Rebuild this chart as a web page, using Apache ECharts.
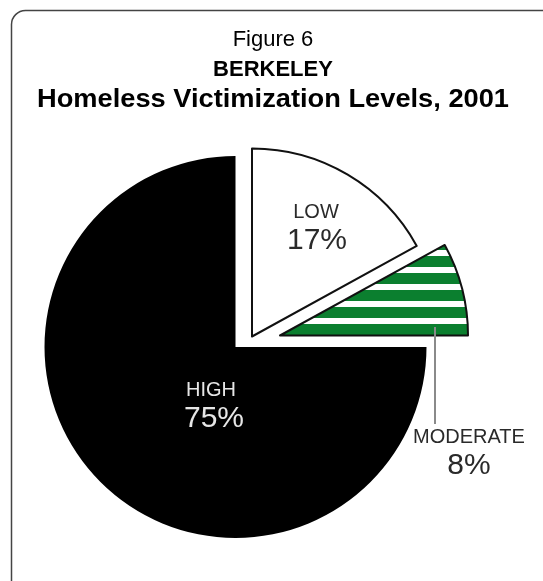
<!DOCTYPE html>
<html>
<head>
<meta charset="utf-8">
<script src="https://cdn.jsdelivr.net/npm/echarts@6/dist/echarts.min.js"></script>
<style>
  html, body { margin: 0; padding: 0; background: #fff; }
  #chart { width: 543px; height: 581px; }
</style>
</head>
<body>
<div id="chart"></div>
<script>
// Victimization levels (share of respondents, %)
const categories = ['LOW', 'MODERATE', 'HIGH'];
const shares = [17, 8, 75];
const titleLines = ['Figure 6', 'BERKELEY', 'Homeless Victimization Levels, 2001'];

const FONT = '"Liberation Sans", Arial, Helvetica, sans-serif';

// Horizontal green stripe fill used for the MODERATE slice
function stripeFill() {
  const c = document.createElement('canvas');
  c.width = 4; c.height = 17;
  const g = c.getContext('2d');
  g.fillStyle = '#ffffff';
  g.fillRect(0, 0, 4, 17);
  g.fillStyle = '#0b7f2f';
  g.fillRect(0, 6, 4, 11);
  return { image: c, repeat: 'repeat', x: 0, y: 12 };
}

// Each slice is drawn by its own pie series so it can sit at its own (exploded) centre
const sliceLayout = {
  HIGH:     { center: [235.5, 347], radius: 191, style: { color: '#000000', borderWidth: 0 } },
  LOW:      { center: [252, 336.5], radius: 188, style: { color: '#ffffff', borderColor: '#111', borderWidth: 2 } },
  MODERATE: { center: [280, 335.5], radius: 188, style: { color: stripeFill(), borderColor: '#111', borderWidth: 2 } }
};
const drawOrder = ['HIGH', 'LOW', 'MODERATE'];

const series = drawOrder.map(key => ({
  type: 'pie',
  center: sliceLayout[key].center,
  radius: sliceLayout[key].radius,
  startAngle: 90,
  clockwise: true,
  silent: true,
  animation: false,
  z: 2,
  label: { show: false },
  labelLine: { show: false },
  emphasis: { disabled: true },
  data: categories.map((name, j) => ({
    name,
    value: shares[j],
    itemStyle: name === key ? sliceLayout[key].style : { color: 'rgba(0,0,0,0)', borderWidth: 0 }
  }))
}));

// Slice label placement
const labelPos = {
  LOW:      { name: [316, 212], pct: [317, 241], color: '#2a2a2a' },
  HIGH:     { name: [211, 390], pct: [214, 419], color: '#e6e6e6' },
  MODERATE: { name: [469, 437], pct: [469, 466], color: '#2a2a2a' }
};

const labelGraphics = [];
categories.forEach((name, i) => {
  const p = labelPos[name];
  labelGraphics.push({
    type: 'text', x: p.name[0], y: p.name[1], z: 100,
    style: { text: name, fill: p.color, font: '20px ' + FONT, textAlign: 'center', textVerticalAlign: 'middle' }
  });
  labelGraphics.push({
    type: 'text', x: p.pct[0], y: p.pct[1], z: 100,
    style: { text: shares[i] + '%', fill: p.color, font: '30px ' + FONT, textAlign: 'center', textVerticalAlign: 'middle' }
  });
});

// Title block: the last line is set slightly wide
const titleFonts = ['22px ' + FONT, 'bold 22px ' + FONT, 'bold 25px ' + FONT];
const titleScaleX = [1, 1, 1.09];
const titleY = [40, 70, 100];
const titleGraphics = titleLines.map((t, i) => ({
  type: 'text', x: 273, y: titleY[i], z: 100, scaleX: titleScaleX[i],
  style: { text: t, fill: '#000', font: titleFonts[i], textAlign: 'center', textVerticalAlign: 'middle' }
}));

const chart = echarts.init(document.getElementById('chart'), null, { renderer: 'canvas' });
chart.setOption({
  backgroundColor: '#ffffff',
  animation: false,
  series,
  graphic: [
    // panel frame
    { type: 'rect', shape: { x: 11.5, y: 10.5, width: 700, height: 800, r: 14 },
      style: { fill: 'none', stroke: '#444', lineWidth: 1.5 }, z: 0 },
    // leader line for the MODERATE label
    { type: 'line', shape: { x1: 435, y1: 327, x2: 435, y2: 424 },
      style: { stroke: '#8a8a8a', lineWidth: 2 }, z: 100 },
    ...titleGraphics,
    ...labelGraphics
  ]
});
</script>
</body>
</html>
